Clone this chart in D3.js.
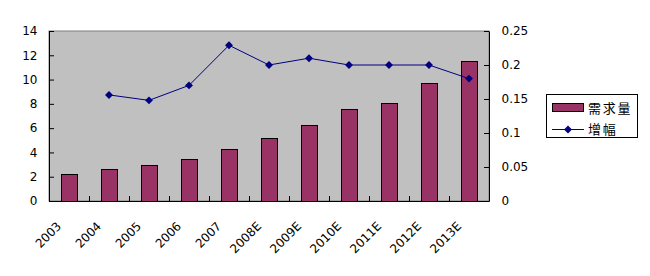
<!DOCTYPE html>
<html><head><meta charset="utf-8">
<script src="https://cdn.jsdelivr.net/npm/d3@7/dist/d3.min.js"></script>
<style>body{margin:0;background:#fff;}svg{display:block;}</style>
</head><body>
<script>
const categories = ["2003","2004","2005","2006","2007","2008E","2009E","2010E","2011E","2012E","2013E"];
const demand = [2.25, 2.6, 3.0, 3.5, 4.25, 5.15, 6.3, 7.55, 8.05, 9.7, 11.5];
const growth = [null, 0.156, 0.148, 0.17, 0.229, 0.2, 0.21, 0.2, 0.2, 0.2, 0.18];
const leftTicks = [0,2,4,6,8,10,12,14];
const rightTicks = [0,0.05,0.1,0.15,0.2,0.25];
const seriesNames = ["需求量","增幅"];

const W=650,H=276;
const m={l:49,t:31,r:489,b:201};
const font = "'DejaVu Sans', Arial, sans-serif";
const svg=d3.select("body").append("svg").attr("width",W).attr("height",H);

const x=d3.scaleBand().domain(categories).range([m.l,m.r]).paddingInner(0).paddingOuter(0);
const yL=d3.scaleLinear().domain([0,14]).range([m.b,m.t]);
const yR=d3.scaleLinear().domain([0,0.25]).range([m.b,m.t]);

svg.append("rect").attr("x",m.l).attr("y",m.t).attr("width",m.r-m.l).attr("height",m.b-m.t)
  .attr("fill","#c0c0c0").attr("stroke","#808080").attr("stroke-width",1);

const bw=x.bandwidth()/2.5;
svg.append("g").selectAll("rect").data(demand).join("rect")
  .attr("x",(d,i)=>Math.round(x(categories[i])+x.bandwidth()/2-bw/2)+0.5)
  .attr("y",d=>Math.round(yL(d))+0.5)
  .attr("width",Math.round(bw))
  .attr("height",d=>m.b-Math.round(yL(d)))
  .attr("fill","#993366").attr("stroke","#000").attr("stroke-width",1);

// axes
const gL=svg.append("g").attr("transform",`translate(${m.l},0)`)
  .call(d3.axisLeft(yL).tickValues(leftTicks).tickSizeInner(-5).tickSizeOuter(0).tickPadding(11.5).tickFormat(d3.format("d")));
const gR=svg.append("g").attr("transform",`translate(${m.r},0)`)
  .call(d3.axisRight(yR).tickValues(rightTicks).tickSizeInner(-5).tickSizeOuter(0).tickPadding(12.5).tickFormat(d=>d===0?"0":String(d)));
const gX=svg.append("g").attr("transform",`translate(0,${m.b})`)
  .call(d3.axisBottom(x).tickSize(0).tickFormat(d=>d));
[gL,gR,gX].forEach(g=>{g.select(".domain").attr("stroke","#000");g.selectAll("line").attr("stroke","#000");
  g.selectAll("text").attr("font-family",font).attr("font-size",12).attr("fill","#000");});
gR.selectAll("text").attr("text-anchor","start");
// x boundary ticks
svg.append("g").selectAll("line").data(categories.slice(1)).join("line")
  .attr("x1",d=>Math.round(x(d))+0.5).attr("x2",d=>Math.round(x(d))+0.5)
  .attr("y1",m.b).attr("y2",m.b-5).attr("stroke","#000");
gX.selectAll("text")
  .attr("text-anchor","end").attr("dy",0).attr("y",0)
  .attr("transform",`translate(-7,26) rotate(-45)`);

// line
const pts=growth.map((g,i)=>({g,c:categories[i]})).filter(p=>p.g!==null);
const line=d3.line().x(p=>x(p.c)+x.bandwidth()/2).y(p=>yR(p.g));
svg.append("path").datum(pts).attr("d",line).attr("fill","none").attr("stroke","#000080").attr("stroke-width",1);
const diamond=d3.symbol().type(d3.symbolDiamond2).size(40);
svg.append("g").selectAll("path").data(pts).join("path")
  .attr("d",diamond)
  .attr("transform",p=>`translate(${x(p.c)+x.bandwidth()/2},${yR(p.g)})`)
  .attr("fill","#000080");

// legend
const lg=svg.append("g");
lg.append("rect").attr("x",546.5).attr("y",94.5).attr("width",91).attr("height",43).attr("fill","#fff").attr("stroke","#000");
lg.append("rect").attr("x",552.5).attr("y",103.5).attr("width",31).attr("height",8).attr("fill","#993366").attr("stroke","#000");
lg.append("line").attr("x1",552).attr("x2",584).attr("y1",129.5).attr("y2",129.5).attr("stroke","#000080");
lg.append("path").attr("d",diamond).attr("transform","translate(568,129.5)").attr("fill","#000080");
lg.selectAll("text").data(seriesNames).join("text")
  .attr("x",588).attr("y",(d,i)=>113+i*21)
  .attr("font-family","'Noto Sans CJK SC', sans-serif").attr("font-size",13).attr("letter-spacing",1.7).text(d=>d);
</script>
</body></html>
